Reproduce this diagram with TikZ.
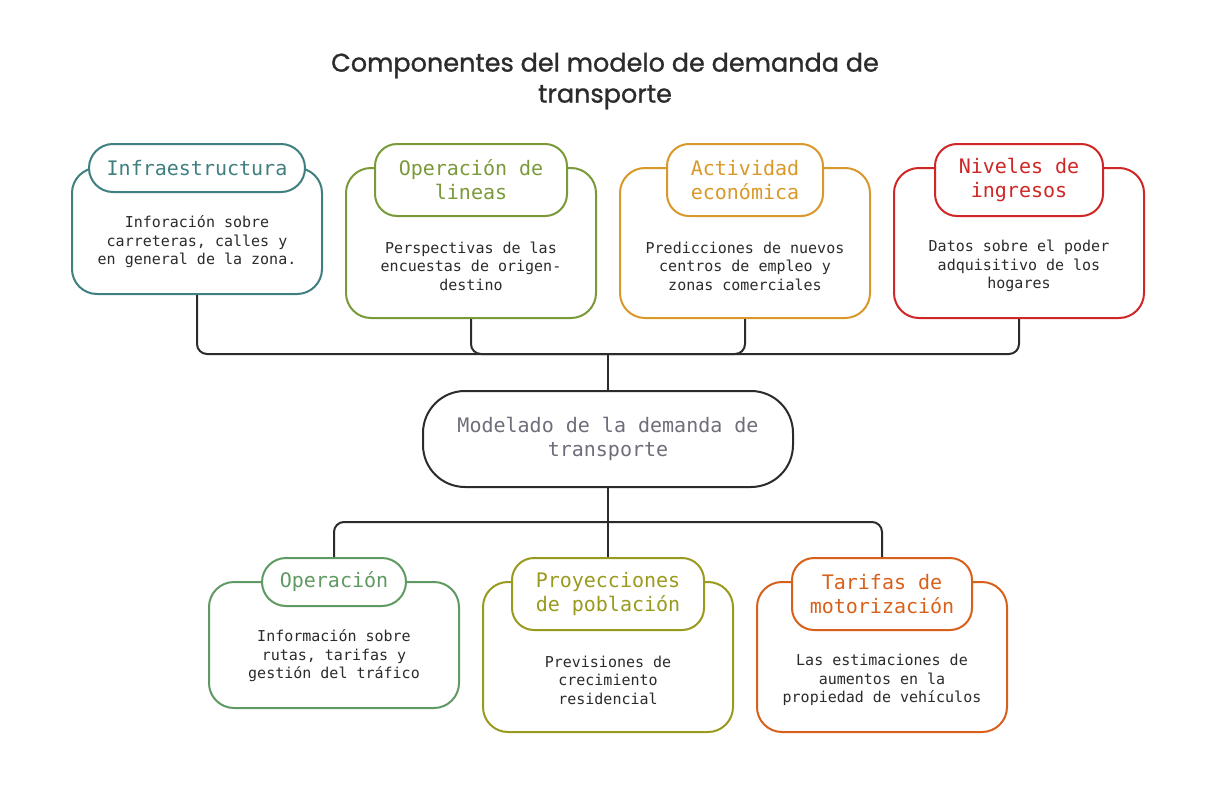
\documentclass[tikz,border=0pt]{standalone}
\usepackage{fontspec}
\newfontfamily\mono{DejaVu Sans Mono}
\newfontfamily\titlefont[FakeBold=1.0]{Poppins}
\definecolor{ink}{HTML}{2B2B2B}
\definecolor{cA}{HTML}{3F7F7F}
\definecolor{cB}{HTML}{7A9A3A}
\definecolor{cC}{HTML}{D9982A}
\definecolor{cD}{HTML}{D02626}
\definecolor{cE}{HTML}{5F9A62}
\definecolor{cF}{HTML}{9A9A1E}
\definecolor{cG}{HTML}{D9601A}
\definecolor{grayt}{HTML}{6E6E7A}
\tikzset{
  bodybox/.style={draw=#1, line width=2pt, rounded corners=25pt, fill=white,
    minimum width=250pt, inner sep=0pt},
  headbox/.style={draw=#1, line width=2pt, fill=white, text=#1,
    font=\mono\fontsize{20}{24}\selectfont, align=center, inner sep=0pt,
    rounded corners=22pt},
  bodytext/.style={text=ink, font=\mono\fontsize{15}{18.5}\selectfont, align=center},
  conn/.style={draw=ink, line width=2pt, rounded corners=10pt},
}
\begin{document}
\begin{tikzpicture}[x=1pt,y=-1pt]
\useasboundingbox (0,0) rectangle (1216,792);
\node[text=ink, font=\titlefont\fontsize{25.5}{31}\selectfont, align=center] (title) at (605,81)
  {Componentes del modelo de demanda de\\transporte};

% top row
\node[bodybox=cA, minimum height=126pt] (b1) at (197,231) {};
\node[headbox=cA, minimum width=216pt, minimum height=48pt, rounded corners=24pt] (h1) at (197,168) {Infraestructura};
\node[bodytext] (t1) at (197,242) {Inforación sobre\\carreteras, calles y\\en general de la zona.};

\node[bodybox=cB, minimum height=150pt] (b2) at (471,243) {};
\node[headbox=cB, minimum width=192pt, minimum height=72pt] (h2) at (471,180) {Operación de\\lineas};
\node[bodytext] (t2) at (471,266) {Perspectivas de las\\encuestas de origen-\\destino};

\node[bodybox=cC, minimum height=150pt] (b3) at (745,243) {};
\node[headbox=cC, minimum width=156pt, minimum height=72pt] (h3) at (745,180) {Actividad\\económica};
\node[bodytext] (t3) at (745,266) {Predicciones de nuevos\\centros de empleo y\\zonas comerciales};

\node[bodybox=cD, minimum height=150pt] (b4) at (1019,243) {};
\node[headbox=cD, minimum width=168pt, minimum height=72pt] (h4) at (1019,180) {Niveles de\\ingresos};
\node[bodytext] (t4) at (1019,266) {Datos sobre el poder\\adquisitivo de los\\hogares};

% center
\node[draw=ink, line width=2pt, fill=white, rounded corners=42pt, minimum width=370pt,
  minimum height=96pt, inner sep=0pt, text=grayt, font=\mono\fontsize{20}{24}\selectfont, align=center]
  (c) at (608,439) {Modelado de la demanda de\\transporte};

% bottom row
\node[bodybox=cE, minimum height=126pt] (b5) at (334,645) {};
\node[headbox=cE, minimum width=144pt, minimum height=48pt, rounded corners=24pt] (h5) at (334,582) {Operación};
\node[bodytext] (t5) at (334,656) {Información sobre\\rutas, tarifas y\\gestión del tráfico};

\node[bodybox=cF, minimum height=150pt] (b6) at (608,657) {};
\node[headbox=cF, minimum width=192pt, minimum height=72pt] (h6) at (608,594) {Proyecciones\\de población};
\node[bodytext] (t6) at (608,680) {Previsiones de\\crecimiento\\residencial};

\node[bodybox=cG, minimum height=150pt] (b7) at (882,657) {};
\node[headbox=cG, minimum width=180pt, minimum height=72pt] (h7) at (882,594) {Tarifas de\\motorización};
\node[bodytext] (t7) at (882,680) {Las estimaciones de\\aumentos en la\\propiedad de vehículos};

% connectors
\coordinate (hubT) at (608,354);
\coordinate (hubB) at (608,522);
\draw[conn] (b1.south) |- (hubT);
\draw[conn] (b2.south) |- (hubT);
\draw[conn] (b3.south) |- (hubT);
\draw[conn] (b4.south) |- (hubT);
\draw[conn] (hubT) -- (c.north);
\draw[conn] (c.south) -- (h6.north);
\draw[conn] (hubB) -| (h5.north);
\draw[conn] (hubB) -| (h7.north);
\end{tikzpicture}
\end{document}
